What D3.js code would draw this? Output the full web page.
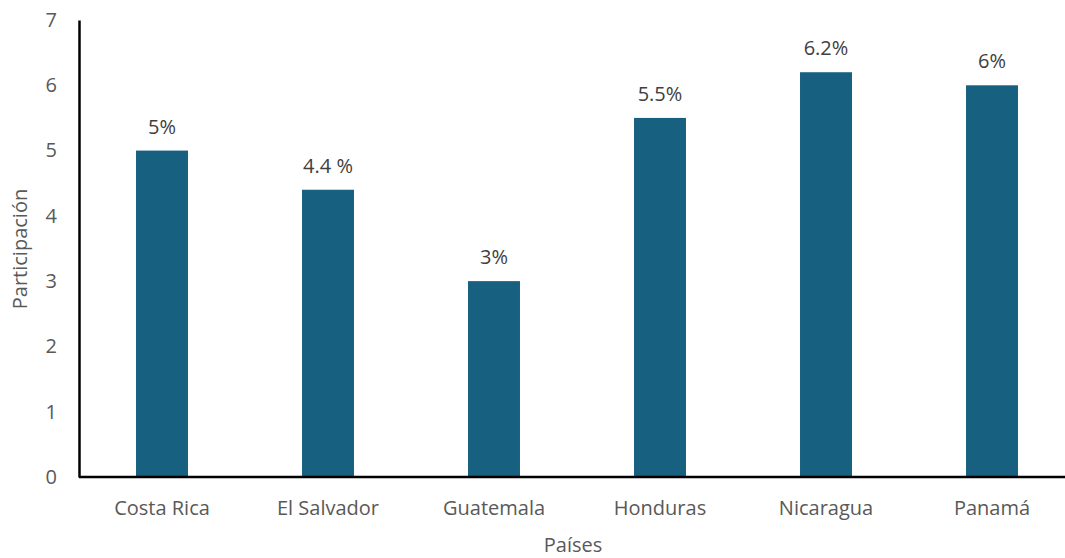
<!DOCTYPE html>
<html><head><meta charset="utf-8">
<script src="https://cdn.jsdelivr.net/npm/d3@7"></script>
<style>body{margin:0;background:#fff}svg{display:block}text{font-family:"Open Sans",sans-serif}</style>
</head><body>
<svg id="c" width="1065" height="558"></svg>
<script>
const categories = ["Costa Rica","El Salvador","Guatemala","Honduras","Nicaragua","Panamá"];
const values = [5, 4.4, 3, 5.5, 6.2, 6];
const labels = ["5%","4.4 %","3%","5.5%","6.2%","6%"];
const yTicks = [0,1,2,3,4,5,6,7];

const svg = d3.select("#c");
const x = d3.scaleBand().domain(categories).range([79, 1075]).paddingInner(0.687).paddingOuter(0.3435);
const y = d3.scaleLinear().domain([0,7]).range([477, 20]);

svg.selectAll("rect.bar").data(values).join("rect")
  .attr("class","bar")
  .attr("x",(d,i)=>x(categories[i]))
  .attr("width",x.bandwidth())
  .attr("y",d=>y(d))
  .attr("height",d=>y(0)-y(d))
  .attr("fill","#17607f");

svg.selectAll("text.lab").data(values).join("text")
  .attr("class","lab")
  .attr("x",(d,i)=>x(categories[i])+x.bandwidth()/2)
  .attr("y",d=>y(d)-17)
  .attr("text-anchor","middle")
  .attr("font-size",20)
  .attr("fill","#404040")
  .text((d,i)=>labels[i]);

const yAxis = svg.append("g").attr("transform","translate(79,0)")
  .call(d3.axisLeft(y).tickValues(yTicks).tickFormat(d3.format("d")).tickSize(0).tickPadding(22));
yAxis.select(".domain").attr("stroke","#000").attr("stroke-width",2.5);
yAxis.selectAll("text").attr("font-size",20).attr("fill","#595959").attr("font-family","Open Sans");

const xAxis = svg.append("g").attr("transform","translate(0,477)")
  .call(d3.axisBottom(x).tickSize(0).tickPadding(24));
xAxis.select(".domain").attr("d","M79,0H1065").attr("stroke","#000").attr("stroke-width",2.5);
xAxis.selectAll("text").attr("font-size",20).attr("fill","#595959").attr("font-family","Open Sans");

svg.append("text").attr("x",573).attr("y",552).attr("text-anchor","middle")
  .attr("font-size",20).attr("fill","#595959").text("Países");
svg.append("text").attr("transform","translate(27,249) rotate(-90)").attr("text-anchor","middle")
  .attr("font-size",20).attr("fill","#595959").text("Participación");
</script>
</body></html>
